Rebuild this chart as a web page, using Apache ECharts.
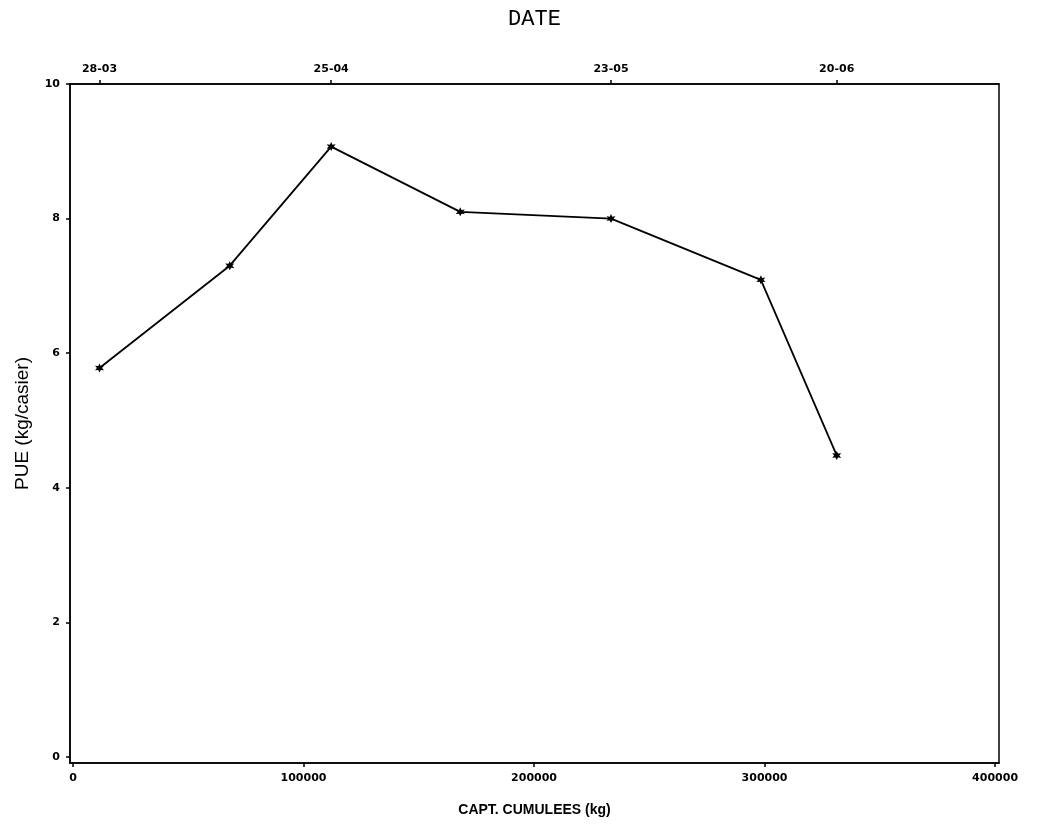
<!DOCTYPE html>
<html>
<head>
<meta charset="utf-8">
<script src="https://cdn.jsdelivr.net/npm/echarts@6/dist/echarts.min.js"></script>
<style>
html,body{margin:0;padding:0;background:#fff;}
#chart{width:1038px;height:827px;}
</style>
</head>
<body>
<div id="chart"></div>
<script>
// Cumulative catch (kg) and PUE (kg/casier)
var captCumulees = [11500, 68000, 112000, 168000, 233400, 298400, 331300];
var pue = [5.78, 7.30, 9.07, 8.10, 8.00, 7.09, 4.48];
// Date axis (top): positions on the cumulative-catch scale and labels
var dateTickValues = [11500, 112000, 233400, 331300];
var dateTickLabels = ['28-03', '25-04', '23-05', '20-06'];
// Tick labels
var xTickValues = [0, 100000, 200000, 300000, 400000];
var yTickValues = [0, 2, 4, 6, 8, 10];

var chart = echarts.init(document.getElementById('chart'), null, {renderer: 'canvas'});

var seriesData = captCumulees.map(function (x, i) { return [x, pue[i]]; });

var tickFont = {color: '#000', fontWeight: 'bold', fontSize: 11, fontFamily: 'DejaVu Sans'};

var option = {
  backgroundColor: '#fff',
  animation: false,
  grid: {
    left: 70, right: 39, top: 84, bottom: 64,
    outerBoundsMode: 'none',
    show: true, borderColor: '#000', borderWidth: 1.5, backgroundColor: 'transparent'
  },
  xAxis: [
    {
      type: 'value', position: 'bottom', min: -1300, max: 401700,
      name: 'CAPT. CUMULEES (kg)', nameLocation: 'middle', nameGap: 40,
      nameTextStyle: {color: '#000', fontWeight: 'bold', fontSize: 14, fontFamily: 'Liberation Sans'},
      axisLine: {show: true, onZero: false, lineStyle: {color: '#000', width: 1.5}},
      axisTick: {show: true, inside: false, length: 4, customValues: xTickValues, lineStyle: {color: '#000', width: 1.5}},
      axisLabel: Object.assign({margin: 10, customValues: xTickValues, formatter: function (v) { return String(v); }}, tickFont),
      splitLine: {show: false}
    },
    {
      type: 'value', position: 'top', min: -1300, max: 401700,
      name: 'DATE', nameLocation: 'middle', nameGap: 54,
      nameTextStyle: {color: '#000', fontSize: 22, fontFamily: 'Liberation Mono'},
      axisLine: {show: true, onZero: false, lineStyle: {color: '#000', width: 1.5}},
      axisTick: {show: true, inside: false, length: 4, customValues: dateTickValues, lineStyle: {color: '#000', width: 1.5}},
      axisLabel: Object.assign({
        margin: 9, customValues: dateTickValues,
        formatter: function (v) {
          var i = dateTickValues.indexOf(v);
          return i >= 0 ? dateTickLabels[i] : '';
        }
      }, tickFont),
      splitLine: {show: false}
    }
  ],
  yAxis: {
    type: 'value', min: -0.09, max: 10,
    name: 'PUE (kg/casier)', nameLocation: 'middle', nameGap: 38, nameRotate: 90,
    nameTextStyle: {color: '#000', fontSize: 19, fontFamily: 'Liberation Sans'},
    axisLine: {show: true, onZero: false, lineStyle: {color: '#000', width: 1.5}},
    axisTick: {show: true, inside: false, length: 4, customValues: yTickValues, lineStyle: {color: '#000', width: 1.5}},
    axisLabel: Object.assign({margin: 10, customValues: yTickValues, formatter: function (v) { return String(v); }}, tickFont),
    splitLine: {show: false}
  },
  series: [{
    type: 'line',
    xAxisIndex: 0,
    data: seriesData,
    lineStyle: {color: '#000', width: 1.8},
    itemStyle: {color: '#000'},
    symbol: 'path://M0,-10 L2.5,-4.3 L8.7,-5 L5,0 L8.7,5 L2.5,4.3 L0,10 L-2.5,4.3 L-8.7,5 L-5,0 L-8.7,-5 L-2.5,-4.3 Z',
    symbolSize: 9,
    showSymbol: true
  }]
};
chart.setOption(option);
</script>
</body>
</html>
